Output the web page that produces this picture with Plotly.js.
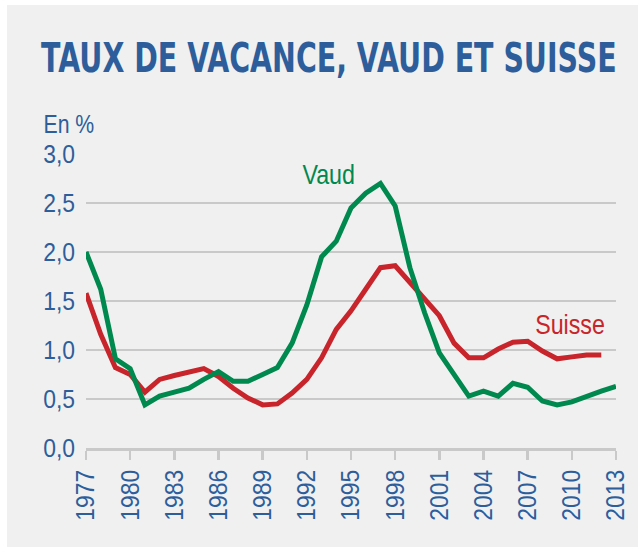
<!DOCTYPE html>
<html>
<head>
<meta charset="utf-8">
<script src="https://cdn.plot.ly/plotly-3.0.1.min.js"></script>
<style>
  html, body { margin: 0; padding: 0; background: #ffffff; width: 638px; height: 547px; overflow: hidden; }
  #chart { position: absolute; left: 7px; top: 5px; width: 631px; height: 542px; }
</style>
</head>
<body>
<div id="chart"></div>
<script>
// Years 1977 - 2013
const years = [1977,1978,1979,1980,1981,1982,1983,1984,1985,1986,1987,1988,1989,1990,1991,1992,1993,1994,1995,1996,1997,1998,1999,2000,2001,2002,2003,2004,2005,2006,2007,2008,2009,2010,2011,2012,2013];
// Taux de vacance (%), Vaud
const vaud = [2.00,1.62,0.91,0.81,0.44,0.53,0.57,0.61,0.70,0.78,0.68,0.68,0.75,0.82,1.07,1.46,1.95,2.11,2.45,2.60,2.70,2.47,1.84,1.38,0.97,0.75,0.53,0.58,0.53,0.66,0.62,0.48,0.44,0.47,0.53,0.58,0.63];
// Taux de vacance (%), Suisse (pas de valeur 2013)
const suisse = [1.58,1.16,0.82,0.75,0.57,0.70,0.74,0.78,0.81,0.73,0.61,0.51,0.44,0.45,0.56,0.70,0.92,1.21,1.40,1.62,1.84,1.86,1.69,1.51,1.35,1.07,0.92,0.92,1.01,1.08,1.09,0.99,0.91,0.93,0.95,0.95,null];
const xTicks = [1977,1980,1983,1986,1989,1992,1995,1998,2001,2004,2007,2010,2013];
const yTicks = [0,0.5,1,1.5,2,2.5,3];
const seriesNames = ["Vaud", "Suisse"];

const BLUE = "#2d5e9b";
const GREEN = "#00894f";
const RED = "#c8242b";
const GRID = "#c9c9c9";
const FONT = "Liberation Sans, Arial, sans-serif";

const traces = [
  { x: years, y: suisse, type: "scatter", mode: "lines", name: seriesNames[1],
    line: { color: RED, width: 5, shape: "linear" }, connectgaps: false, hoverinfo: "x+y" },
  { x: years, y: vaud, type: "scatter", mode: "lines", name: seriesNames[0],
    line: { color: GREEN, width: 5, shape: "linear" }, hoverinfo: "x+y" }
];

const layout = {
  width: 631, height: 542,
  paper_bgcolor: "#f0f0f0",
  plot_bgcolor: "#f0f0f0",
  separators: ", ",
  showlegend: false,
  margin: { l: 79, r: 22, t: 149, b: 99, pad: 0 },
  font: { family: FONT, color: BLUE, size: 26 },
  title: {
    text: "TAUX DE VACANCE, VAUD ET SUISSE",
    font: { family: "DejaVu Sans, sans-serif", size: 41, weight: 700, color: BLUE },
    xref: "container", yref: "container",
    x: 34 / 631, xanchor: "left",
    y: 1 - 53 / 542, yanchor: "middle"
  },
  xaxis: {
    range: [1977, 2013],
    tickvals: xTicks,
    ticktext: xTicks.map(String),
    tickangle: -90,
    ticks: "outside", ticklen: 9, tickwidth: 2.5, tickcolor: GRID,
    showline: true, linecolor: GRID, linewidth: 2.5,
    showgrid: false, zeroline: false,
    tickfont: { family: FONT, size: 26, color: BLUE },
    fixedrange: true
  },
  yaxis: {
    range: [0, 3],
    tickvals: yTicks,
    tickformat: ".1f",
    showgrid: true, gridcolor: GRID, gridwidth: 2.5,
    zeroline: false, showline: false, ticks: "",
    ticklabelstandoff: 10,
    tickfont: { family: FONT, size: 26, color: BLUE },
    fixedrange: true
  },
  annotations: [
    { text: "En %", xref: "paper", yref: "paper", x: 0, y: 1,
      xanchor: "left", yanchor: "bottom", xshift: -49, yshift: 14,
      showarrow: false, font: { family: FONT, size: 25, color: BLUE } },
    { text: seriesNames[0], xref: "x", yref: "y", x: 1993.5, y: 2.79,
      xanchor: "center", yanchor: "middle", showarrow: false,
      font: { family: FONT, size: 28, color: GREEN } },
    { text: seriesNames[1], xref: "x", yref: "y", x: 2009.85, y: 1.26,
      xanchor: "center", yanchor: "middle", showarrow: false,
      font: { family: FONT, size: 28, color: RED } }
  ]
};

// Condense text horizontally (the reference uses a condensed typeface)
function condense(el, factor) {
  const w = el.getComputedTextLength();
  if (!w) return;
  el.setAttribute("textLength", (w * factor).toFixed(2));
  el.setAttribute("lengthAdjust", "spacingAndGlyphs");
}

Plotly.newPlot("chart", traces, layout, { displayModeBar: false, staticPlot: true }).then(function () {
  const root = document.getElementById("chart");
  root.querySelectorAll(".xtick text, .ytick text").forEach(el => condense(el, 0.88));
  const ann = root.querySelectorAll(".annotation-text");
  ann.forEach((el, i) => condense(el, i === 0 ? 0.85 : 0.83));
  const t = root.querySelector(".gtitle");
  if (t) {
    const w = t.getComputedTextLength();
    const s = 576 / w;
    const x0 = parseFloat(t.getAttribute("x")) || 0;
    const prev = t.getAttribute("transform") || "";
    t.setAttribute("transform", prev + " translate(" + (x0 * (1 - s)).toFixed(2) + ",0) scale(" + s.toFixed(4) + ",1)");
  }
});
</script>
</body>
</html>
